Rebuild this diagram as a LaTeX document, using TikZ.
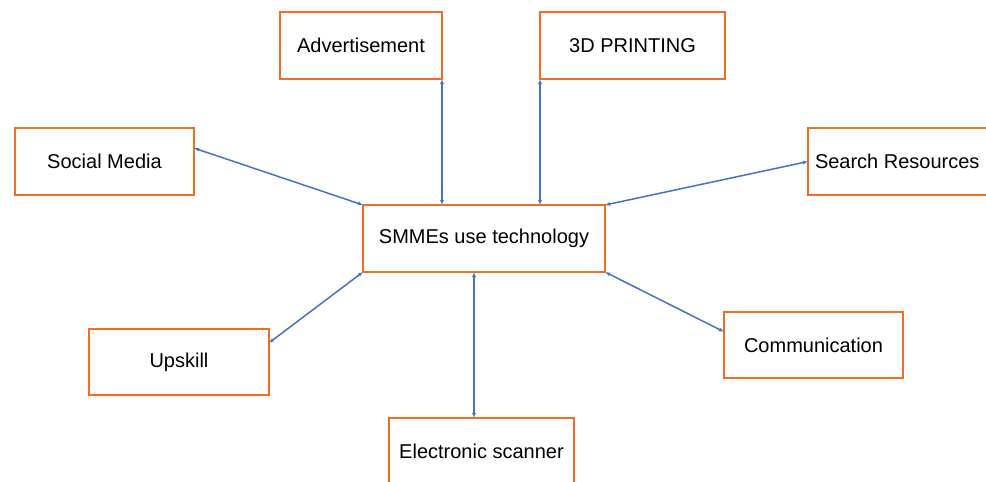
\documentclass[tikz,border=0pt]{standalone}
\usepackage{fontspec}
\setmainfont{Liberation Sans}
\usetikzlibrary{arrows.meta,calc}
\definecolor{boxorange}{RGB}{244,108,38}
\definecolor{linkblue}{RGB}{70,114,196}
\begin{document}
\begin{tikzpicture}[x=1pt,y=-1pt,
  box/.style={draw=boxorange,line width=2.5pt,fill=white,rectangle,inner sep=0pt,outer sep=0pt,
    minimum height=67pt,font=\fontsize{20}{24}\selectfont,text=black},
  link/.style={draw=linkblue,line width=1.5pt,{Latex[length=5pt,width=4pt]}-{Latex[length=5pt,width=4pt]}}]
\clip (0,0) rectangle (986,482);
\fill[white] (0,0) rectangle (986,482);
\node[box,minimum width=162pt] (adv) at (361,45.5) {Advertisement};
\node[box,minimum width=185pt] (td) at (632.5,45.5) {3D PRINTING};
\node[box,minimum width=179pt] (soc) at (104.5,161.5) {Social Media};
\node[box,anchor=west,inner xsep=7pt] (sr) at (808,161.5) {\makebox[186pt][l]{Search Resources}};
\node[box,minimum width=242pt] (smme) at (484,238.5) {SMMEs use technology};
\node[box,minimum width=180pt,minimum height=66pt] (up) at (179,362) {Upskill};
\node[box,minimum width=179pt,minimum height=66pt] (comm) at (813.5,345) {Communication};
\node[box,minimum width=185pt] (scan) at (481.5,451.5) {Electronic scanner};
\draw[link] (adv.south east) -- (adv.south east |- smme.north);
\draw[link] (td.south west) -- (td.south west |- smme.north);
\draw[link] ($(soc.north east)!0.3!(soc.south east)$) -- (smme.north west);
\draw[link] (smme.north east) -- (sr.west);
\draw[link] ($(up.north east)!0.21!(up.south east)$) -- (smme.south west);
\draw[link] ([xshift=-10pt]smme.south) -- ([xshift=-10pt]smme.south |- scan.north);
\draw[link] (smme.south east) -- ($(comm.north west)!0.3!(comm.south west)$);
\end{tikzpicture}
\end{document}
